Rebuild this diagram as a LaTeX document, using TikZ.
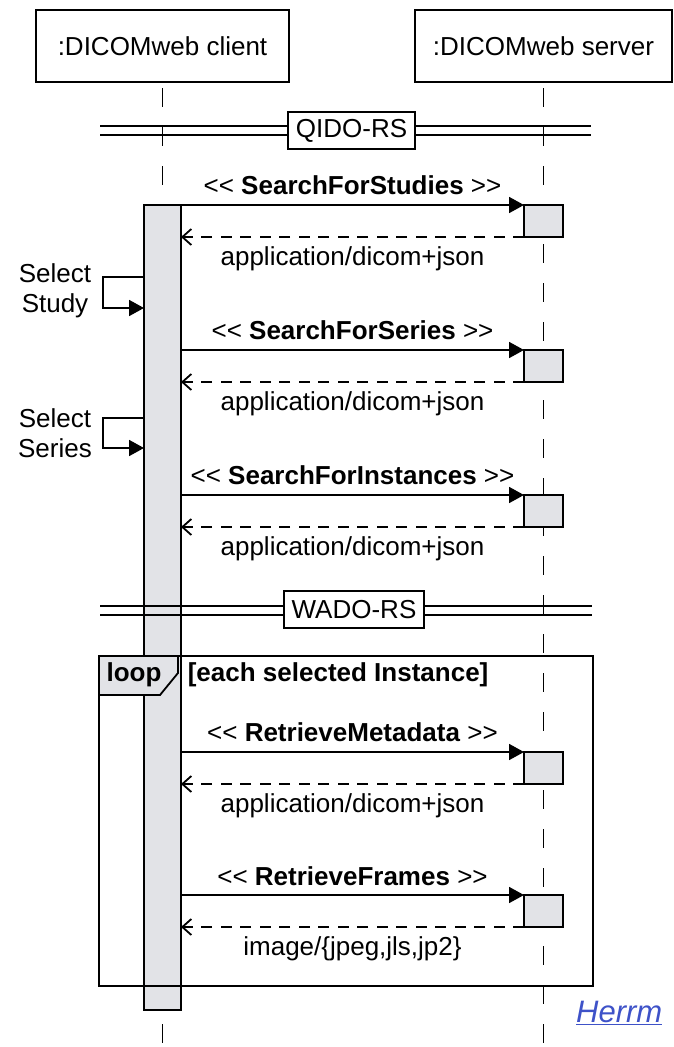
\documentclass[tikz,border=0pt]{standalone}
\usepackage{fontspec}
\setmainfont{Liberation Sans}
\usetikzlibrary{arrows.meta, calc, positioning}
\definecolor{barfill}{RGB}{226,227,231}
\definecolor{linkblue}{RGB}{62,82,200}
\newcommand{\seqfont}{\fontsize{26}{30}\selectfont}
\tikzstyle{actor} = [rectangle, line width=2pt, minimum height=72pt, text centered, draw=black, font=\seqfont]
\tikzstyle{activation} = [rectangle, line width=1.8pt, draw=black, fill=barfill, inner sep=0pt, outer sep=0pt]
\tikzstyle{lifeline} = [line width=1.5pt, dash pattern=on 19pt off 20pt, dash phase=34pt]
\tikzstyle{separator} = [line width=1.7pt]
\tikzstyle{divider} = [rectangle, line width=1.8pt, draw=black, fill=white, minimum height=37pt, inner xsep=8pt, font=\seqfont]
\tikzstyle{frame} = [rectangle, line width=1.8pt, draw=black, inner sep=0pt, outer sep=0pt]
\tikzstyle{tab} = [line width=1.8pt, draw=black, fill=barfill]
\tikzstyle{msg} = [inner sep=0pt, font=\seqfont]
\tikzstyle{call} = [line width=1.8pt, -{Triangle[length=15pt, width=16pt]}]
\tikzstyle{reply} = [line width=1.8pt, dash pattern=on 11pt off 8.5pt, -{Straight Barb[length=9pt, width=16pt]}]

\begin{document}
\begin{tikzpicture}[x=1pt, y=-1pt]
		\useasboundingbox (0,0) rectangle (673,1047);
		% participants and lifelines
		\node (Client) [actor, minimum width=253pt] at (162.5,46) {:DICOMweb client};
		\node (Server) [actor, minimum width=257pt] at (543.5,46) {:DICOMweb server};
		\draw [lifeline] (Client.south) -- (Client.south |- 0,1047);
		\draw [lifeline] (Server.south) -- (Server.south |- 0,1047);
		\node (ClientBar) [activation, minimum width=37pt, minimum height=805pt, anchor=north] at (162.5,205) {};
		% QIDO-RS
		\coordinate (QidoLeft) at (100,130.5);
		\coordinate (QidoRight) at (591,130.5);
		\draw [separator] ([yshift=4.5pt]QidoLeft) -- ([yshift=4.5pt]QidoRight) ([yshift=-4.5pt]QidoLeft) -- ([yshift=-4.5pt]QidoRight);
		\node (QidoRS) [divider] at (351.5,130.5) {QIDO-RS};
		\node (StudiesBox) [activation, minimum width=39pt, minimum height=32pt, anchor=north] at (Server.south |- 0,205) {};
		\node (SeriesBox) [activation, minimum width=39pt, minimum height=32pt, anchor=north] at (Server.south |- 0,350) {};
		\node (InstancesBox) [activation, minimum width=39pt, minimum height=32pt, anchor=north] at (Server.south |- 0,495) {};
		\path (StudiesBox.north west) -- (StudiesBox.north west -| ClientBar.east) coordinate[pos=0.5] (StudiesCall);
		\path (StudiesBox.south west) -- (StudiesBox.south west -| ClientBar.east) coordinate[pos=0.5] (StudiesReply);
		\path (SeriesBox.north west) -- (SeriesBox.north west -| ClientBar.east) coordinate[pos=0.5] (SeriesCall);
		\path (SeriesBox.south west) -- (SeriesBox.south west -| ClientBar.east) coordinate[pos=0.5] (SeriesReply);
		\path (InstancesBox.north west) -- (InstancesBox.north west -| ClientBar.east) coordinate[pos=0.5] (InstancesCall);
		\path (InstancesBox.south west) -- (InstancesBox.south west -| ClientBar.east) coordinate[pos=0.5] (InstancesReply);
		\draw [call] (StudiesBox.north west -| ClientBar.east) -- (StudiesBox.north west);
		\draw [reply] (StudiesBox.south west) -- (StudiesBox.south west -| ClientBar.east);
		\draw [call] (SeriesBox.north west -| ClientBar.east) -- (SeriesBox.north west);
		\draw [reply] (SeriesBox.south west) -- (SeriesBox.south west -| ClientBar.east);
		\draw [call] (InstancesBox.north west -| ClientBar.east) -- (InstancesBox.north west);
		\draw [reply] (InstancesBox.south west) -- (InstancesBox.south west -| ClientBar.east);
		\node (StudiesLabel) [msg, above = 10pt of StudiesCall] {<\kern0pt< \textbf{SearchForStudies} >\kern0pt>};
		\node (StudiesType) [msg, below = 9pt of StudiesReply] {application/dicom+json};
		\node (SeriesLabel) [msg, above = 10pt of SeriesCall] {<\kern0pt< \textbf{SearchForSeries} >\kern0pt>};
		\node (SeriesType) [msg, below = 9pt of SeriesReply] {application/dicom+json};
		\node (InstancesLabel) [msg, above = 10pt of InstancesCall] {<\kern0pt< \textbf{SearchForInstances} >\kern0pt>};
		\node (InstancesType) [msg, below = 9pt of InstancesReply] {application/dicom+json};
		% self calls
		\coordinate (StudyOut) at (ClientBar.west |- 0,277);
		\coordinate (StudyIn) at (ClientBar.west |- 0,308);
		\coordinate (SeriesOut) at (ClientBar.west |- 0,418);
		\coordinate (SeriesIn) at (ClientBar.west |- 0,448);
		\draw [call] (StudyOut) -- ++(-41pt,0pt) |- (StudyIn);
		\draw [call] (SeriesOut) -- ++(-41pt,0pt) |- (SeriesIn);
		\node (SelectStudy) [msg, align=center] at (55,291) {Select\\Study};
		\node (SelectSeries) [msg, align=center] at (55,433) {Select\\Series};
		% WADO-RS
		\coordinate (WadoLeft) at (100,610.5);
		\coordinate (WadoRight) at (592,610.5);
		\draw [separator] ([yshift=4.5pt]WadoLeft) -- ([yshift=4.5pt]WadoRight) ([yshift=-4.5pt]WadoLeft) -- ([yshift=-4.5pt]WadoRight);
		\node (WadoRS) [divider] at (354,609.5) {WADO-RS};
		\node (MetadataBox) [activation, minimum width=39pt, minimum height=32pt, anchor=north] at (Server.south |- 0,752) {};
		\node (FramesBox) [activation, minimum width=39pt, minimum height=32pt, anchor=north] at (Server.south |- 0,895) {};
		\path (MetadataBox.north west) -- (MetadataBox.north west -| ClientBar.east) coordinate[pos=0.5] (MetadataCall);
		\path (MetadataBox.south west) -- (MetadataBox.south west -| ClientBar.east) coordinate[pos=0.5] (MetadataReply);
		\path (FramesBox.north west) -- (FramesBox.north west -| ClientBar.east) coordinate[pos=0.5] (FramesCall);
		\path (FramesBox.south west) -- (FramesBox.south west -| ClientBar.east) coordinate[pos=0.5] (FramesReply);
		\draw [call] (MetadataBox.north west -| ClientBar.east) -- (MetadataBox.north west);
		\draw [reply] (MetadataBox.south west) -- (MetadataBox.south west -| ClientBar.east);
		\draw [call] (FramesBox.north west -| ClientBar.east) -- (FramesBox.north west);
		\draw [reply] (FramesBox.south west) -- (FramesBox.south west -| ClientBar.east);
		\node (MetadataLabel) [msg, above = 10pt of MetadataCall] {<\kern0pt< \textbf{RetrieveMetadata} >\kern0pt>};
		\node (MetadataType) [msg, below = 9pt of MetadataReply] {application/dicom+json};
		\node (FramesLabel) [msg, above = 9pt of FramesCall] {<\kern0pt< \textbf{RetrieveFrames} >\kern0pt>};
		\node (FramesType) [msg, below = 9pt of FramesReply] {image/\{jpeg,jls,jp2\}};
		% loop fragment
		\node (Loop) [frame, minimum width=494pt, minimum height=330pt, anchor=north west] at (99,656) {};
		\draw [tab] (Loop.north west) -- ++(79,0) -- ++(0,17) -- ++(-18,22) -- ++(-61,0) -- cycle;
		\node (LoopTag) [msg, font=\seqfont\bfseries] at (134,675) {loop};
		\node (LoopGuard) [msg, font=\seqfont\bfseries, right = 26pt of LoopTag] {[each selected Instance]};
		\node (Source) [msg, anchor=base west, text=linkblue, font=\fontsize{31}{34}\selectfont\itshape] at (576,1022) {\underline{Herrm}};
\end{tikzpicture}
\end{document}
